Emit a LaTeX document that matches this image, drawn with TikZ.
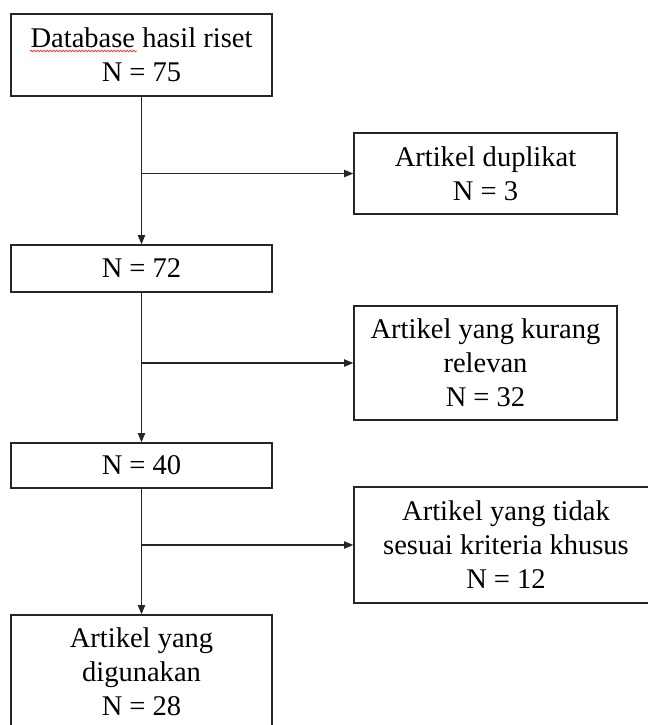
\documentclass[tikz,border=0pt]{standalone}
\usepackage{fontspec}
\setmainfont{Liberation Serif}
\usetikzlibrary{arrows.meta,decorations.pathmorphing}
\begin{document}
\begin{tikzpicture}[x=0.75pt,y=-0.75pt,
  box/.style={draw=black!85, line width=1pt, rectangle, align=center, inner sep=0pt,
    font=\fontsize{21.4}{25.5}\selectfont},
  arr/.style={draw=black!85, line width=1pt, -{Triangle[length=7pt,width=5.5pt]}},
  squig/.style={draw=red!80, line width=0.6pt, decorate,
    decoration={snake, amplitude=0.6pt, segment length=2.4pt}}]
\useasboundingbox (0,0) rectangle (648,725);
\clip (0,0) rectangle (648,725);
\fill[white] (0,0) rectangle (648,725);
\node[box, minimum width=195.75pt, minimum height=61.5pt] (b1) at (141.5,55) {Database hasil riset\\N = 75};
\node[box, minimum width=197.25pt, minimum height=60.75pt] (b2) at (485.5,173.5) {Artikel duplikat\\N = 3};
\node[box, minimum width=195.75pt, minimum height=35.25pt] (b3) at (141.5,268.5) {N = 72};
\node[box, minimum width=197.25pt, minimum height=85.5pt] (b4) at (485.5,363) {Artikel yang kurang\\relevan\\N = 32};
\node[box, minimum width=195.75pt, minimum height=33.75pt] (b5) at (141.5,465.5) {N = 40};
\node[box, minimum width=228pt, minimum height=87pt] (b6) at (506,545) {Artikel yang tidak\\sesuai kriteria khusus\\N = 12};
\node[box, minimum width=195.75pt, minimum height=85.5pt] (b7) at (141.5,672) {Artikel yang\\digunakan\\N = 28};
\draw[arr] (b1.south) -- (b3.north);
\draw[arr] (b3.south) -- (b5.north);
\draw[arr] (b5.south) -- (b7.north);
\draw[arr] (b1.south |- b2.west) -- (b2.west);
\draw[arr] (b3.south |- b4.west) -- (b4.west);
\draw[arr] (b5.south |- b6.west) -- (b6.west);
\coordinate (s1) at (30,51);
\coordinate (s2) at (137,51);
\draw[squig] (s1) -- (s2);
\end{tikzpicture}
\end{document}
